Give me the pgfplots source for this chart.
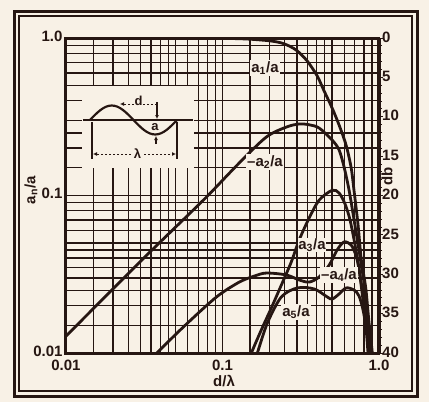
\documentclass[border=0pt]{standalone}
\usepackage{pgfplots}
\pgfplotsset{compat=1.18}
\usetikzlibrary{arrows.meta}
\usepackage{fontspec}
\setmainfont{Liberation Sans}
\definecolor{bg}{RGB}{248,241,230}
\definecolor{ink}{RGB}{38,22,18}
\newcommand{\lf}{\fontsize{15}{18}\selectfont\bfseries}
\pgfplotsset{curve/.style={ink, line width=2.8pt, smooth, tension=0.5, mark=none}}
\begin{document}
\begin{tikzpicture}
\begin{scope}[x=1pt,y=-1pt]
\fill[bg] (0,0) rectangle (429,402);
\path[use as bounding box] (0,0) rectangle (429,402);
\draw[ink, line width=3pt] (14.5,11) rectangle (417.5,396);
\draw[ink, line width=1.2pt] (19,16) rectangle (412,391);
\end{scope}

\begin{axis}[
  at={(66pt,-38pt)}, anchor=north west, scale only axis,
  width=313pt, height=315pt,
  xmode=log, ymode=log, xmin=0.01, xmax=1, ymin=0.01, ymax=1,
  xtick={0.01,0.1,1}, xticklabels={0.01,0.1,1.0},
  ytick={0.01,0.1,1}, yticklabels={0.01,0.1,1.0},
  minor xtick={0.015,0.02,0.025,0.03,0.035,0.04,0.045,0.05,0.06,0.07,0.08,0.09,0.15,0.2,0.25,0.3,0.35,0.4,0.45,0.5,0.6,0.7,0.8,0.9},
  minor ytick={0.015,0.02,0.025,0.03,0.035,0.04,0.045,0.05,0.06,0.07,0.08,0.09,0.15,0.2,0.25,0.3,0.4,0.5,0.6,0.7,0.8,0.9},
  grid=both,
  major grid style={ink, line width=1.6pt},
  minor grid style={ink, line width=1.4pt},
  major tick length=0pt, minor tick length=0pt,
  axis line style={ink, line width=3pt},
  tick label style={font=\lf, text=ink},
  xticklabel style={yshift=-3pt},
  yticklabel style={xshift=0pt, yshift=2pt},
  xlabel={d/λ}, ylabel={a\textsubscript{n}/a},
  label style={font=\lf, text=ink},
  xlabel style={at={(axis description cs:0.505,-0.088)}, anchor=center},
  ylabel style={at={(axis description cs:-0.112,0.517)}, anchor=center},
]
% a1/a
\addplot[curve] coordinates {(0.01,1.0)(0.05,1.0)(0.1,0.995)(0.144,0.985)(0.2,0.96)(0.238,0.93)(0.27,0.885)(0.301,0.827)(0.348,0.714)(0.403,0.574)(0.446,0.461)(0.502,0.359)(0.556,0.280)(0.616,0.209)(0.664,0.150)(0.693,0.107)(0.735,0.065)(0.767,0.0407)(0.796,0.032)(0.826,0.0251)(0.864,0.0155)(0.902,0.0105)(0.91,0.0093)};
% -a2/a
\addplot[curve] coordinates {(0.01,0.0128)(0.0296,0.0378)(0.048,0.0604)(0.079,0.0978)(0.128,0.161)(0.1905,0.235)(0.256,0.272)(0.309,0.2845)(0.36,0.281)(0.415,0.268)(0.502,0.225)(0.556,0.1945)(0.598,0.152)(0.644,0.108)(0.693,0.070)(0.757,0.0407)(0.815,0.0251)(0.851,0.0155)(0.889,0.0101)(0.895,0.0093)};
% a3/a
\addplot[curve] coordinates {(0.145,0.0085)(0.153,0.01)(0.177,0.014)(0.205,0.0193)(0.2377,0.027)(0.275,0.0378)(0.309,0.0522)(0.358,0.072)(0.415,0.0936)(0.502,0.108)(0.556,0.1037)(0.607,0.0883)(0.653,0.070)(0.703,0.0485)(0.757,0.0313)(0.815,0.01875)(0.864,0.01124)(0.876,0.01)(0.88,0.0092)};
% a4/a
\addplot[curve] coordinates {(0.035,0.0092)(0.038,0.01)(0.058,0.01506)(0.0916,0.0227)(0.128,0.0282)(0.16,0.0308)(0.1905,0.0322)(0.256,0.0313)(0.309,0.0291)(0.358,0.0282)(0.415,0.0304)(0.481,0.0362)(0.54,0.0451)(0.598,0.0507)(0.664,0.0485)(0.714,0.0413)(0.746,0.0337)(0.791,0.0217)(0.839,0.014)(0.864,0.01)(0.87,0.0093)};
% a5/a
\addplot[curve] coordinates {(0.16,0.0088)(0.167,0.01)(0.1936,0.0155)(0.2377,0.0227)(0.301,0.0259)(0.386,0.0255)(0.467,0.0227)(0.502,0.022)(0.556,0.0237)(0.617,0.0259)(0.693,0.0251)(0.746,0.023)(0.791,0.01875)(0.826,0.0144)(0.851,0.01)(0.856,0.0093)};
\end{axis}

\begin{axis}[
  at={(66pt,-38pt)}, anchor=north west, scale only axis,
  width=313pt, height=315pt,
  xmin=0, xmax=1, ymin=0, ymax=40, y dir=reverse,
  axis x line=none, axis y line*=right,
  axis line style={ink, line width=3pt},
  ytick={0,5,...,40}, minor ytick={0,1,...,40},
  tick align=outside, major tick length=4pt, minor tick length=3pt,
  every tick/.style={ink, line width=1pt},
  /pgf/number format/assume math mode=true,
  yticklabel style={font=\lf, text=ink, inner sep=0pt, anchor=west, xshift=-1pt, yshift=1pt},
]
\addplot[draw=none] coordinates {(0,0)(1,40)};
\end{axis}

\begin{scope}[x=1pt,y=-1pt]
% inset
\fill[bg] (82,86) rectangle (194,168);
\draw[ink, line width=1.4pt] (83,120) -- (193,120);
\draw[ink, line width=2.2pt] (90,120) sin (111.75,105.5) cos (133.5,120) sin (155.25,134.5) cos (177,120);
\draw[ink, line width=1.3pt] (92,122) -- (92,159);
\draw[ink, line width=1.3pt] (177,122) -- (177,159);
\draw[ink, line width=1pt, dash pattern=on 2pt off 2pt, -{Latex[length=4pt,width=4pt]}] (131,154) -- (93,154);
\draw[ink, line width=1pt, dash pattern=on 2pt off 2pt, -{Latex[length=4pt,width=4pt]}] (144,154) -- (176,154);
\node[font=\fontsize{13}{15}\selectfont\bfseries, text=ink, inner sep=0pt] at (137.5,154) {λ};
\draw[ink, line width=1pt, dash pattern=on 2pt off 2pt, -{Latex[length=4pt,width=4pt]}] (134,104) -- (120,104);
\draw[ink, line width=1pt, dash pattern=on 2pt off 2pt] (143,104) -- (157,104);
\draw[ink, line width=1.2pt, -{Latex[length=4pt,width=4pt]}] (157,102) -- (157,119);
\draw[ink, line width=1.2pt, -{Latex[length=4pt,width=4pt]}] (156,144) -- (156,136);
\node[font=\fontsize{13}{15}\selectfont\bfseries, text=ink, inner sep=0pt] at (138.5,101) {d};
\node[font=\fontsize{13}{15}\selectfont\bfseries, text=ink, inner sep=0pt] at (155,127.5) {a};
% curve labels
\begin{scope}[every node/.style={font=\lf, text=ink, inner sep=1pt}]
\node[fill=bg] at (265,68) {a\textsubscript{1}/a};
\node[fill=bg] at (265,162) {–a\textsubscript{2}/a};
\node[fill=bg, inner sep=0.3pt] at (312,245) {a\textsubscript{3}/a};
\node[fill=bg] at (339,275) {–a\textsubscript{4}/a};
\node[fill=bg] at (296,312) {a\textsubscript{5}/a};
\node[rotate=90] at (387,176) {db};
\end{scope}
\end{scope}
\end{tikzpicture}
\end{document}
